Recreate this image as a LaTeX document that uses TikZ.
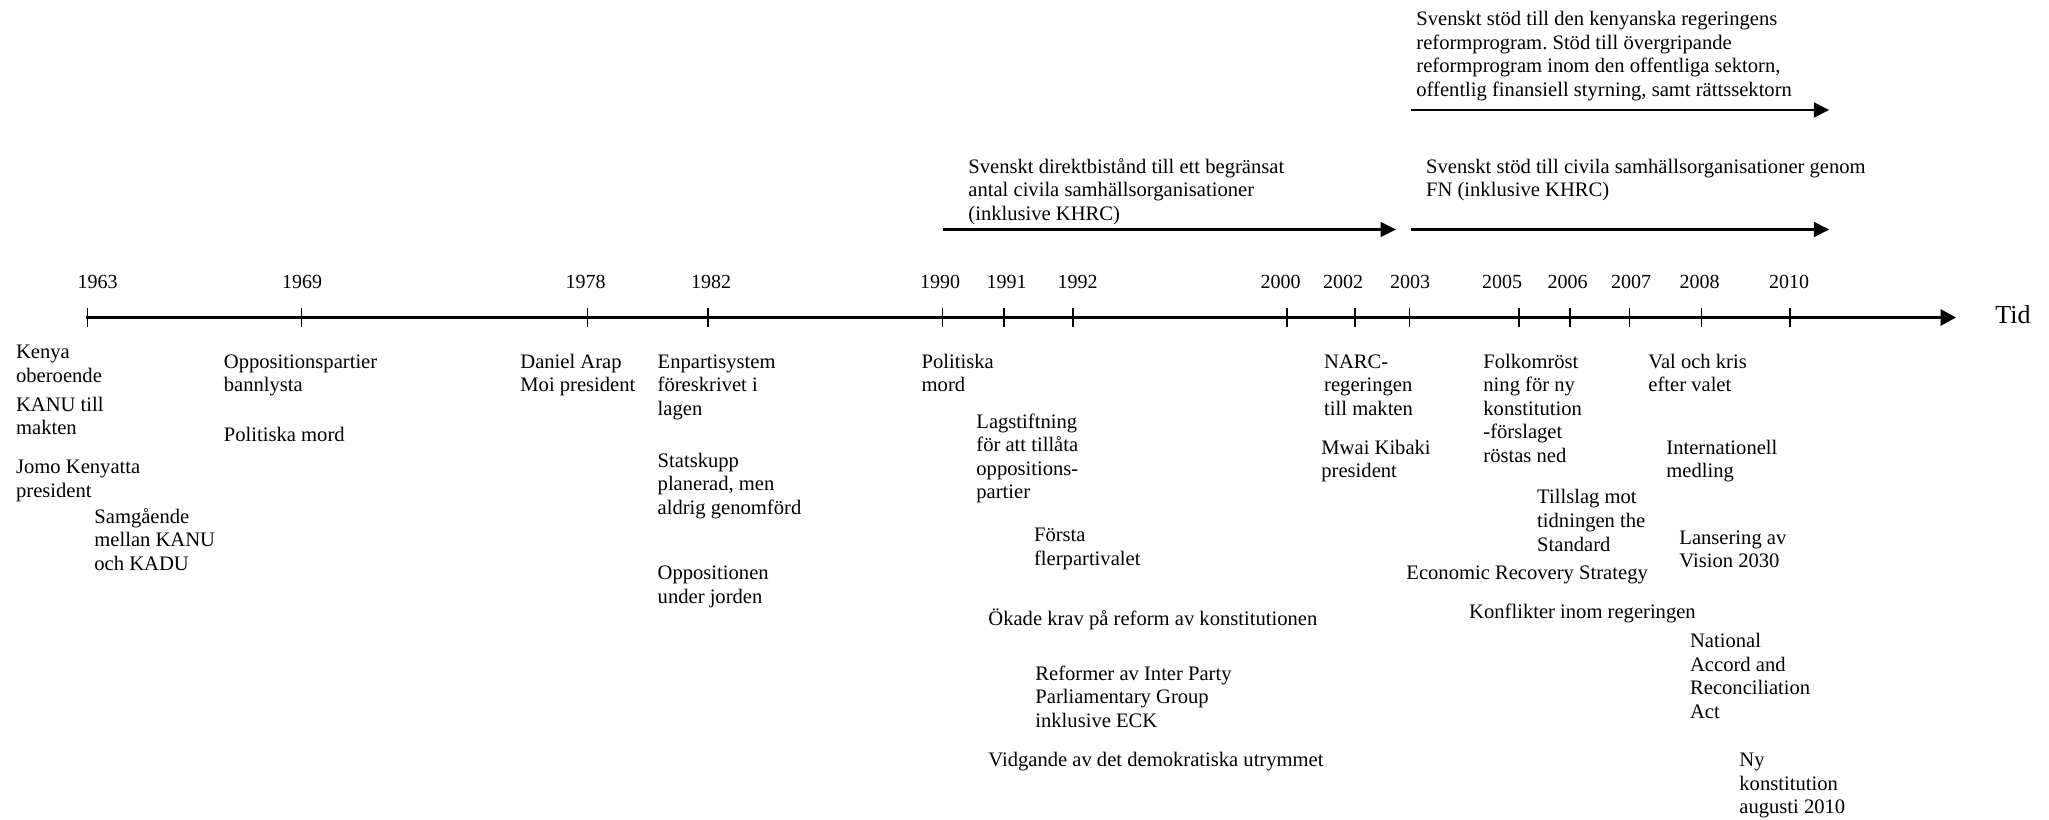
\documentclass[tikz,border=0pt]{standalone}
\usepackage{fontspec}
\setmainfont{Liberation Serif}
\usetikzlibrary{arrows.meta}
\frenchspacing
\begin{document}
\begin{tikzpicture}[x=0.5pt,y=-0.5pt,
  lbl/.style={anchor=north west,inner sep=0pt,align=left,yshift=4.8pt,font=\fontsize{10.3}{11.8}\selectfont},
  yr/.style={anchor=base,inner sep=0pt,font=\fontsize{10}{12}\selectfont},
  axis/.style={line width=1.4pt,-{Triangle[length=7.7pt,width=8pt]}},
  tickmark/.style={line width=0.8pt},
  support/.style={line width=1.35pt,-{Triangle[length=7.7pt,width=7.3pt]}},
]
\useasboundingbox (0,0) rectangle (2049,819);

% time axis
\coordinate (axS) at (86,317.5);
\coordinate (axE) at (1956,317.5);
\draw[axis] (axS) -- (axE);
\node[anchor=base west,inner sep=0pt,font=\fontsize{13}{15}\selectfont] (tid) at (1995,323) {Tid};

\foreach \yr/\tx/\lx in {1963/87.4/97.5, 1969/301.5/302, 1978/587.5/585.6, 1982/708/711,
  1990/942.3/940, 1991/1004/1006.5, 1992/1073/1077.5, 2000/1287/1280.6, 2002/1355/1343,
  2003/1409.5/1410, 2005/1519/1502, 2006/1570/1567.5, 2007/1629.5/1631, 2008/1701.3/1699.5,
  2010/1790/1789}{
  \coordinate (t\yr) at (\tx,317.5);
  \draw[tickmark] ([yshift=4.75pt]t\yr) -- ([yshift=-4.75pt]t\yr);
  \node[yr] (y\yr) at (\lx,288) {\yr};
}

% support arrows
\coordinate (aTopS) at (1410.7,110);
\coordinate (aTopE) at (1829.3,110);
\draw[support] (aTopS) -- (aTopE);
\coordinate (aLS) at (942.7,229.5);
\coordinate (aLE) at (1396,229.5);
\draw[support] (aLS) -- (aLE);
\coordinate (aRS) at (1410.7,229.5);
\coordinate (aRE) at (1829.3,229.5);
\draw[support] (aRS) -- (aRE);

\node[lbl] (supTop) at (1416,18.3) {\strut Svenskt stöd till den kenyanska regeringens\\reformprogram. Stöd till övergripande\\reformprogram inom den offentliga sektorn,\\offentlig finansiell styrning, samt rättssektorn};
\node[lbl] (supL) at (968,166) {\strut Svenskt direktbistånd till ett begränsat\\antal civila samhällsorganisationer\\(inklusive KHRC)};
\node[lbl] (supR) at (1425.7,166) {\strut Svenskt stöd till civila samhällsorganisationer genom\\FN (inklusive KHRC)};

% events
\node[lbl] (e1) at (15.7,351.5) {\strut Kenya\\oberoende};
\node[lbl] (e2) at (15.7,404) {\strut KANU till\\makten};
\node[lbl] (e3) at (15.7,466.5) {\strut Jomo Kenyatta\\president};
\node[lbl] (e4) at (94,516) {\strut Samgående\\mellan KANU\\och KADU};
\node[lbl] (e5) at (223.5,360.7) {\strut Oppositionspartier\\bannlysta};
\node[lbl] (e6) at (223.5,433.9) {\strut Politiska mord};
\node[lbl] (e7) at (520,360.7) {\strut Daniel Arap\\Moi president};
\node[lbl] (e8) at (657.3,360.7) {\strut Enpartisystem\\föreskrivet i\\lagen};
\node[lbl] (e9) at (657.3,460) {\strut Statskupp\\planerad, men\\aldrig genomförd};
\node[lbl] (e10) at (657.3,572.4) {\strut Oppositionen\\under jorden};
\node[lbl] (e11) at (921.3,360.7) {\strut Politiska\\mord};
\node[lbl] (e12) at (976,420.8) {\strut Lagstiftning\\för att tillåta\\oppositions-\\partier};
\node[lbl] (e13) at (1033.7,534.5) {\strut Första\\flerpartivalet};
\node[lbl] (e14) at (988,618) {\strut Ökade krav på reform av konstitutionen};
\node[lbl] (e15) at (1035,673) {\strut Reformer av Inter Party\\Parliamentary Group\\inklusive ECK};
\node[lbl] (e16) at (988,759.3) {\strut Vidgande av det demokratiska utrymmet};
\node[lbl] (e17) at (1323.8,360.7) {\strut NARC-\\regeringen\\till makten};
\node[lbl] (e18) at (1321,447) {\strut Mwai Kibaki\\president};
\node[lbl] (e19) at (1483,360.7) {\strut Folkomröst\\ning för ny\\konstitution\\-förslaget\\röstas ned};
\node[lbl] (e20) at (1536.8,496.6) {\strut Tillslag mot\\tidningen the\\Standard};
\node[lbl] (e21) at (1406,572.4) {\strut Economic Recovery Strategy};
\node[lbl] (e22) at (1468.8,611.6) {\strut Konflikter inom regeringen};
\node[lbl] (e23) at (1648,360.7) {\strut Val och kris\\efter valet};
\node[lbl] (e24) at (1666,447) {\strut Internationell\\medling};
\node[lbl] (e25) at (1679,537) {\strut Lansering av\\Vision 2030};
\node[lbl] (e26) at (1689.7,640.3) {\strut National\\Accord and\\Reconciliation\\Act};
\node[lbl] (e27) at (1739,759.3) {\strut Ny\\konstitution\\augusti 2010};
\end{tikzpicture}
\end{document}
